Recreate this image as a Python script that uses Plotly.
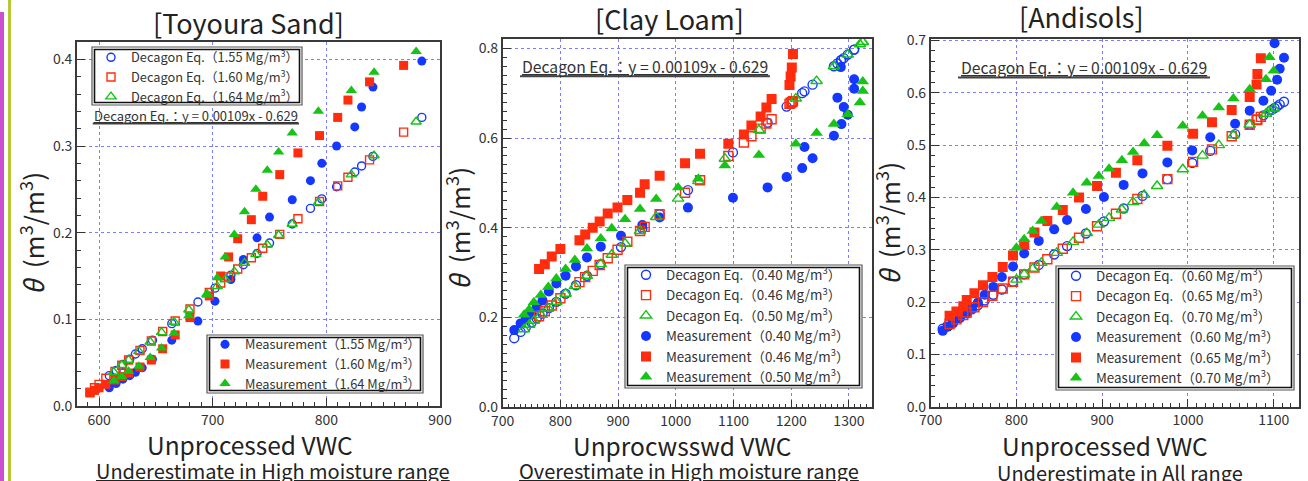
import plotly.graph_objects as go

# ---------------- Data: [Toyoura Sand] ----------------
sand_x_155 = [609, 615, 621, 627, 632, 638, 647, 664, 687, 702, 716, 727, 739, 750, 770, 786, 796, 809, 825, 831, 841, 884]
sand_meas_155 = [0.021, 0.026, 0.031, 0.035, 0.039, 0.044, 0.054, 0.076, 0.098, 0.121, 0.146, 0.169, 0.194, 0.218, 0.238, 0.260, 0.280, 0.300, 0.322, 0.345, 0.368, 0.398]
sand_deca_155 = [0.035, 0.041, 0.048, 0.054, 0.060, 0.066, 0.076, 0.095, 0.120, 0.136, 0.151, 0.163, 0.176, 0.188, 0.210, 0.228, 0.239, 0.253, 0.270, 0.277, 0.288, 0.333]

sand_x_160 = [592, 596, 600, 606, 614, 620, 626, 636, 646, 656, 667, 680, 697, 707, 714, 722, 734, 744, 759, 775, 794, 810, 819, 838, 868]
sand_meas_160 = [0.015, 0.018, 0.021, 0.025, 0.030, 0.034, 0.038, 0.045, 0.053, 0.066, 0.082, 0.102, 0.127, 0.150, 0.172, 0.193, 0.215, 0.242, 0.267, 0.292, 0.312, 0.333, 0.353, 0.374, 0.393]
sand_deca_160 = [0.016, 0.021, 0.025, 0.032, 0.040, 0.047, 0.053, 0.064, 0.075, 0.086, 0.098, 0.112, 0.131, 0.142, 0.149, 0.158, 0.171, 0.182, 0.198, 0.216, 0.236, 0.254, 0.264, 0.284, 0.316]

sand_x_164 = [613, 620, 626, 635, 645, 655, 666, 679, 695, 704, 711, 719, 728, 738, 748, 758, 770, 793, 822, 842, 879]
sand_meas_164 = [0.029, 0.034, 0.040, 0.046, 0.056, 0.067, 0.084, 0.104, 0.128, 0.148, 0.172, 0.198, 0.224, 0.250, 0.272, 0.293, 0.315, 0.340, 0.364, 0.385, 0.409]
sand_deca_164 = [0.039, 0.047, 0.053, 0.063, 0.074, 0.085, 0.097, 0.111, 0.129, 0.138, 0.146, 0.155, 0.165, 0.175, 0.186, 0.197, 0.210, 0.235, 0.267, 0.289, 0.328]

# ---------------- Data: [Clay Loam] ----------------
clay_x_040 = [720, 731, 740, 750, 759, 769, 780, 793, 809, 827, 846, 870, 905, 942, 972, 1021, 1099, 1159, 1192, 1219, 1237, 1223, 1274, 1287, 1298, 1291, 1280, 1309, 1309, 1286]
clay_meas_040 = [0.172, 0.187, 0.200, 0.210, 0.226, 0.238, 0.258, 0.276, 0.293, 0.314, 0.334, 0.358, 0.382, 0.406, 0.423, 0.445, 0.467, 0.490, 0.513, 0.533, 0.555, 0.580, 0.605, 0.631, 0.652, 0.669, 0.690, 0.710, 0.731, 0.758]
clay_deca_040 = [0.154, 0.168, 0.178, 0.189, 0.198, 0.209, 0.221, 0.235, 0.253, 0.272, 0.293, 0.319, 0.357, 0.398, 0.430, 0.484, 0.568, 0.634, 0.670, 0.700, 0.719, 0.704, 0.760, 0.774, 0.786, 0.778, 0.766, 0.797, 0.797, 0.773]

clay_x_046 = [763, 773, 785, 800, 833, 843, 856, 868, 882, 899, 916, 938, 946, 972, 1016, 1042, 1091, 1118, 1131, 1147, 1157, 1166, 1197, 1199, 1201, 1203]
clay_meas_046 = [0.308, 0.319, 0.336, 0.353, 0.372, 0.385, 0.400, 0.414, 0.432, 0.445, 0.462, 0.478, 0.497, 0.516, 0.544, 0.565, 0.587, 0.608, 0.628, 0.648, 0.668, 0.687, 0.718, 0.737, 0.757, 0.787]
clay_deca_046 = [0.203, 0.214, 0.227, 0.243, 0.279, 0.290, 0.304, 0.317, 0.332, 0.351, 0.369, 0.393, 0.402, 0.430, 0.478, 0.506, 0.560, 0.590, 0.604, 0.621, 0.632, 0.642, 0.676, 0.678, 0.680, 0.682]

clay_x_050 = [737, 746, 754, 766, 779, 793, 809, 825, 846, 870, 889, 912, 938, 966, 1004, 1039, 1085, 1144, 1208, 1244, 1274, 1298, 1319, 1324, 1324]
clay_meas_050 = [0.206, 0.218, 0.234, 0.250, 0.268, 0.287, 0.308, 0.328, 0.354, 0.376, 0.399, 0.419, 0.442, 0.464, 0.490, 0.509, 0.539, 0.562, 0.587, 0.611, 0.631, 0.653, 0.679, 0.705, 0.726]
clay_deca_050 = [0.174, 0.184, 0.193, 0.206, 0.220, 0.235, 0.253, 0.270, 0.293, 0.319, 0.340, 0.365, 0.393, 0.424, 0.465, 0.504, 0.554, 0.618, 0.688, 0.727, 0.760, 0.786, 0.809, 0.814, 0.814]

# ---------------- Data: [Andisols] ----------------
andi_x_060 = [714, 720, 726, 734, 742, 748, 755, 763, 773, 783, 796, 809, 826, 844, 859, 881, 902, 925, 947, 976, 1005, 1026, 1055, 1072, 1088, 1097, 1104, 1107, 1112, 1101]
andi_meas_060 = [0.145, 0.153, 0.159, 0.169, 0.178, 0.188, 0.199, 0.214, 0.229, 0.248, 0.268, 0.293, 0.317, 0.339, 0.357, 0.378, 0.401, 0.424, 0.446, 0.467, 0.490, 0.515, 0.541, 0.566, 0.585, 0.604, 0.625, 0.646, 0.667, 0.695]
andi_deca_060 = [0.149, 0.156, 0.162, 0.171, 0.180, 0.186, 0.194, 0.203, 0.214, 0.224, 0.239, 0.253, 0.271, 0.291, 0.307, 0.331, 0.354, 0.379, 0.403, 0.435, 0.466, 0.489, 0.521, 0.539, 0.557, 0.567, 0.574, 0.578, 0.583, 0.571]

andi_x_065 = [722, 730, 738, 742, 751, 761, 772, 784, 796, 809, 821, 836, 854, 873, 894, 916, 941, 976, 1006, 1028, 1051, 1072, 1080, 1081, 1085]
andi_meas_065 = [0.174, 0.182, 0.192, 0.204, 0.217, 0.232, 0.248, 0.267, 0.289, 0.310, 0.333, 0.355, 0.376, 0.400, 0.422, 0.447, 0.471, 0.499, 0.522, 0.544, 0.567, 0.592, 0.616, 0.636, 0.666]
andi_deca_065 = [0.158, 0.167, 0.175, 0.180, 0.190, 0.200, 0.212, 0.226, 0.239, 0.253, 0.266, 0.282, 0.302, 0.323, 0.345, 0.369, 0.397, 0.435, 0.468, 0.492, 0.517, 0.539, 0.548, 0.549, 0.554]

andi_x_070 = [800, 809, 819, 829, 847, 866, 882, 896, 908, 923, 936, 949, 964, 994, 1017, 1036, 1053, 1072, 1091, 1100, 1095]
andi_meas_070 = [0.304, 0.320, 0.336, 0.355, 0.382, 0.409, 0.428, 0.441, 0.455, 0.471, 0.487, 0.503, 0.519, 0.537, 0.556, 0.572, 0.589, 0.607, 0.626, 0.642, 0.668]
andi_deca_070 = [0.243, 0.253, 0.264, 0.275, 0.294, 0.315, 0.332, 0.348, 0.361, 0.377, 0.391, 0.405, 0.422, 0.454, 0.480, 0.500, 0.519, 0.539, 0.560, 0.570, 0.565]

# ---------------- Text ----------------
titles = ["[Toyoura Sand]", "[Clay Loam]", "[Andisols]"]
xtitles = ["Unprocessed VWC", "Unprocwsswd VWC", "Unprocessed VWC"]
notes = ["<u>Underestimate in High moisture range</u>", "<u>Overestimate in High moisture range</u>", "Underestimate in All range"]
equation = "Decagon Eq.：y = 0.00109x - 0.629"

FONT = "Noto Sans CJK JP, Noto Sans, sans-serif"
BLUE = "#1438ff"
RED = "#ff2d0d"
GREEN = "#16c316"
W, H = 1308, 481

fig = go.Figure()


def px(v):
    return v / W


def py(v):
    return 1 - v / H


def add_pair(xv, meas, deca, color, sym, label, xa, ya, leg_m, leg_d, rank, size):
    fig.add_trace(go.Scatter(
        x=xv, y=meas, mode="markers", xaxis=xa, yaxis=ya, legend=leg_m,
        name="Measurement（" + label + " Mg/m<sup>3</sup>）", legendrank=rank + 10,
        marker=dict(symbol=sym, color=color, size=size, line=dict(width=0))))
    fig.add_trace(go.Scatter(
        x=xv, y=deca, mode="markers", xaxis=xa, yaxis=ya, legend=leg_d,
        name="Decagon Eq.（" + label + " Mg/m<sup>3</sup>）", legendrank=rank,
        marker=dict(symbol=sym + "-open", color=color, size=size - 1,
                    line=dict(width=1.4, color=color))))


# Panel 1
add_pair(sand_x_155, sand_meas_155, sand_deca_155, BLUE, "circle", "1.55", "x", "y", "legend2", "legend", 1, 9)
add_pair(sand_x_160, sand_meas_160, sand_deca_160, RED, "square", "1.60", "x", "y", "legend2", "legend", 2, 9)
add_pair(sand_x_164, sand_meas_164, sand_deca_164, GREEN, "triangle-up", "1.64", "x", "y", "legend2", "legend", 3, 10)
# Panel 2
add_pair(clay_x_040, clay_meas_040, clay_deca_040, BLUE, "circle", "0.40", "x2", "y2", "legend3", "legend3", 1, 10)
add_pair(clay_x_046, clay_meas_046, clay_deca_046, RED, "square", "0.46", "x2", "y2", "legend3", "legend3", 2, 10)
add_pair(clay_x_050, clay_meas_050, clay_deca_050, GREEN, "triangle-up", "0.50", "x2", "y2", "legend3", "legend3", 3, 11)
# Panel 3
add_pair(andi_x_060, andi_meas_060, andi_deca_060, BLUE, "circle", "0.60", "x3", "y3", "legend4", "legend4", 1, 10)
add_pair(andi_x_065, andi_meas_065, andi_deca_065, RED, "square", "0.65", "x3", "y3", "legend4", "legend4", 2, 10)
add_pair(andi_x_070, andi_meas_070, andi_deca_070, GREEN, "triangle-up", "0.70", "x3", "y3", "legend4", "legend4", 3, 11)

# Geometry (pixels)
frames = [
    (77, 440, 42, 406),
    (502.7, 872, 39.3, 407.3),
    (930.7, 1299, 38.7, 406.7),
]
xranges = [[580.6, 900], [700, 1340], [700, 1129.5]]
yranges = [[0, 0.42], [0, 0.82], [0, 0.7035]]
ydticks = [0.1, 0.2, 0.1]


def axis_common():
    return dict(
        showline=True, linecolor="#3a3a3a", linewidth=1.6, mirror=True,
        ticks="inside", ticklen=8, tickwidth=1.2, tickcolor="#333",
        tickfont=dict(family=FONT, size=14, color="#333"),
        showgrid=True, gridcolor="#7d7dff", gridwidth=1, griddash="dot",
        zeroline=False, automargin=False,
    )


layout_axes = {}
for i, (l, r, t, b) in enumerate(frames):
    sfx = "" if i == 0 else str(i + 1)
    xa = axis_common()
    xa.update(domain=[px(l), px(r)], range=xranges[i], dtick=100, tick0=0,
              anchor="y" + sfx,
              minor=dict(ticks="inside", dtick=10, ticklen=4, tickcolor="#333", showgrid=False))
    ya = axis_common()
    ya.update(domain=[py(b), py(t)], range=yranges[i], dtick=ydticks[i], tick0=0,
              tickformat=".1f", anchor="x" + sfx,
              minor=dict(ticks="inside", dtick=0.02, ticklen=4, tickcolor="#333", showgrid=False))
    layout_axes["xaxis" + sfx] = xa
    layout_axes["yaxis" + sfx] = ya

fig.update_layout(**layout_axes)

leg_common = dict(bgcolor="rgba(0,0,0,0)", borderwidth=0,
                  xanchor="left", yanchor="top", traceorder="normal")
fig.update_layout(
    width=W, height=H, margin=dict(l=0, r=0, t=0, b=0, pad=0, autoexpand=False),
    paper_bgcolor="white", plot_bgcolor="white", showlegend=True,
    legend=dict(x=px(91), y=py(42.5), font=dict(family=FONT, size=12.8, color="#333"), **leg_common),
    legend2=dict(x=px(205), y=py(329.5), font=dict(family=FONT, size=12.8, color="#333"), **leg_common),
    legend3=dict(x=px(626), y=py(259.5), font=dict(family=FONT, size=13.4, color="#333"), **leg_common),
    legend4=dict(x=px(1056), y=py(260.5), font=dict(family=FONT, size=13.4, color="#333"), **leg_common),
)

annotations = []
title_pos = [(248, 22.5), (669, 18.5), (1081, 16.5)]
xt_pos = [(250, 444), (682, 445), (1105, 445)]
note_pos = [(273, 470), (689, 470), (1120, 472)]
yt_pos = [(31, 234), (457, 229), (887, 223)]
eq_pos = [(196, 115.7, 13), (645, 66.7, 15.7), (1084, 67.7, 15.7)]
for i in range(3):
    annotations.append(dict(text=titles[i], x=px(title_pos[i][0]), y=py(title_pos[i][1]),
                            xref="paper", yref="paper", showarrow=False,
                            font=dict(family=FONT, size=27, color="#222"), xanchor="center", yanchor="middle"))
    annotations.append(dict(text=xtitles[i], x=px(xt_pos[i][0]), y=py(xt_pos[i][1]),
                            xref="paper", yref="paper", showarrow=False,
                            font=dict(family=FONT, size=24.5, color="#222"), xanchor="center", yanchor="middle"))
    annotations.append(dict(text=notes[i], x=px(note_pos[i][0]), y=py(note_pos[i][1]),
                            xref="paper", yref="paper", showarrow=False,
                            font=dict(family=FONT, size=20, color="#222"), xanchor="center", yanchor="middle"))
    annotations.append(dict(text="<i>θ</i>  (m<sup>3</sup>/m<sup>3</sup>)", x=px(yt_pos[i][0]), y=py(yt_pos[i][1]),
                            xref="paper", yref="paper", showarrow=False, textangle=-90,
                            font=dict(family=FONT, size=26, color="#222"), xanchor="center", yanchor="middle"))
    annotations.append(dict(text="<u>" + equation + "</u>", x=px(eq_pos[i][0]), y=py(eq_pos[i][1]),
                            xref="paper", yref="paper", showarrow=False,
                            font=dict(family=FONT, size=eq_pos[i][2], color="#333"), xanchor="center", yanchor="middle"))
fig.update_layout(annotations=annotations)


def legend_box(l, t, r, b):
    return [
        dict(type="rect", xref="paper", yref="paper", layer="above",
             x0=px(l), x1=px(r), y0=py(b), y1=py(t),
             fillcolor="white", line=dict(color="#555", width=1.2)),
        dict(type="rect", xref="paper", yref="paper", layer="above",
             x0=px(l + 2.5), x1=px(r - 2.5), y0=py(b - 2.5), y1=py(t + 2.5),
             line=dict(color="#111", width=1.6)),
    ]


shapes = []
shapes += legend_box(92, 47, 302, 105)
shapes += legend_box(207, 335, 423, 393)
shapes += legend_box(625, 265, 862, 388)
shapes += legend_box(1056, 266, 1294, 390)
shapes += [
    dict(type="line", xref="paper", yref="paper", x0=px(92.7), x1=px(299), y0=py(123.5), y1=py(123.5),
         line=dict(color="#444", width=2)),
    dict(type="line", xref="paper", yref="paper", x0=px(520), x1=px(770), y0=py(76.3), y1=py(76.3),
         line=dict(color="#444", width=2)),
    dict(type="line", xref="paper", yref="paper", x0=px(958), x1=px(1210), y0=py(77.5), y1=py(77.5),
         line=dict(color="#444", width=2)),
    dict(type="rect", xref="paper", yref="paper", x0=0, x1=px(4), y0=0, y1=py(12),
         fillcolor="#cc4fcf", line=dict(width=0)),
    dict(type="line", xref="paper", yref="paper", x0=px(9.5), x1=px(9.5), y0=0, y1=1,
         line=dict(color="#b9c935", width=3)),
]
fig.update_layout(shapes=shapes)

fig.write_html("out.html", config={"displayModeBar": False},
               post_script="document.body.style.margin='0px';")
